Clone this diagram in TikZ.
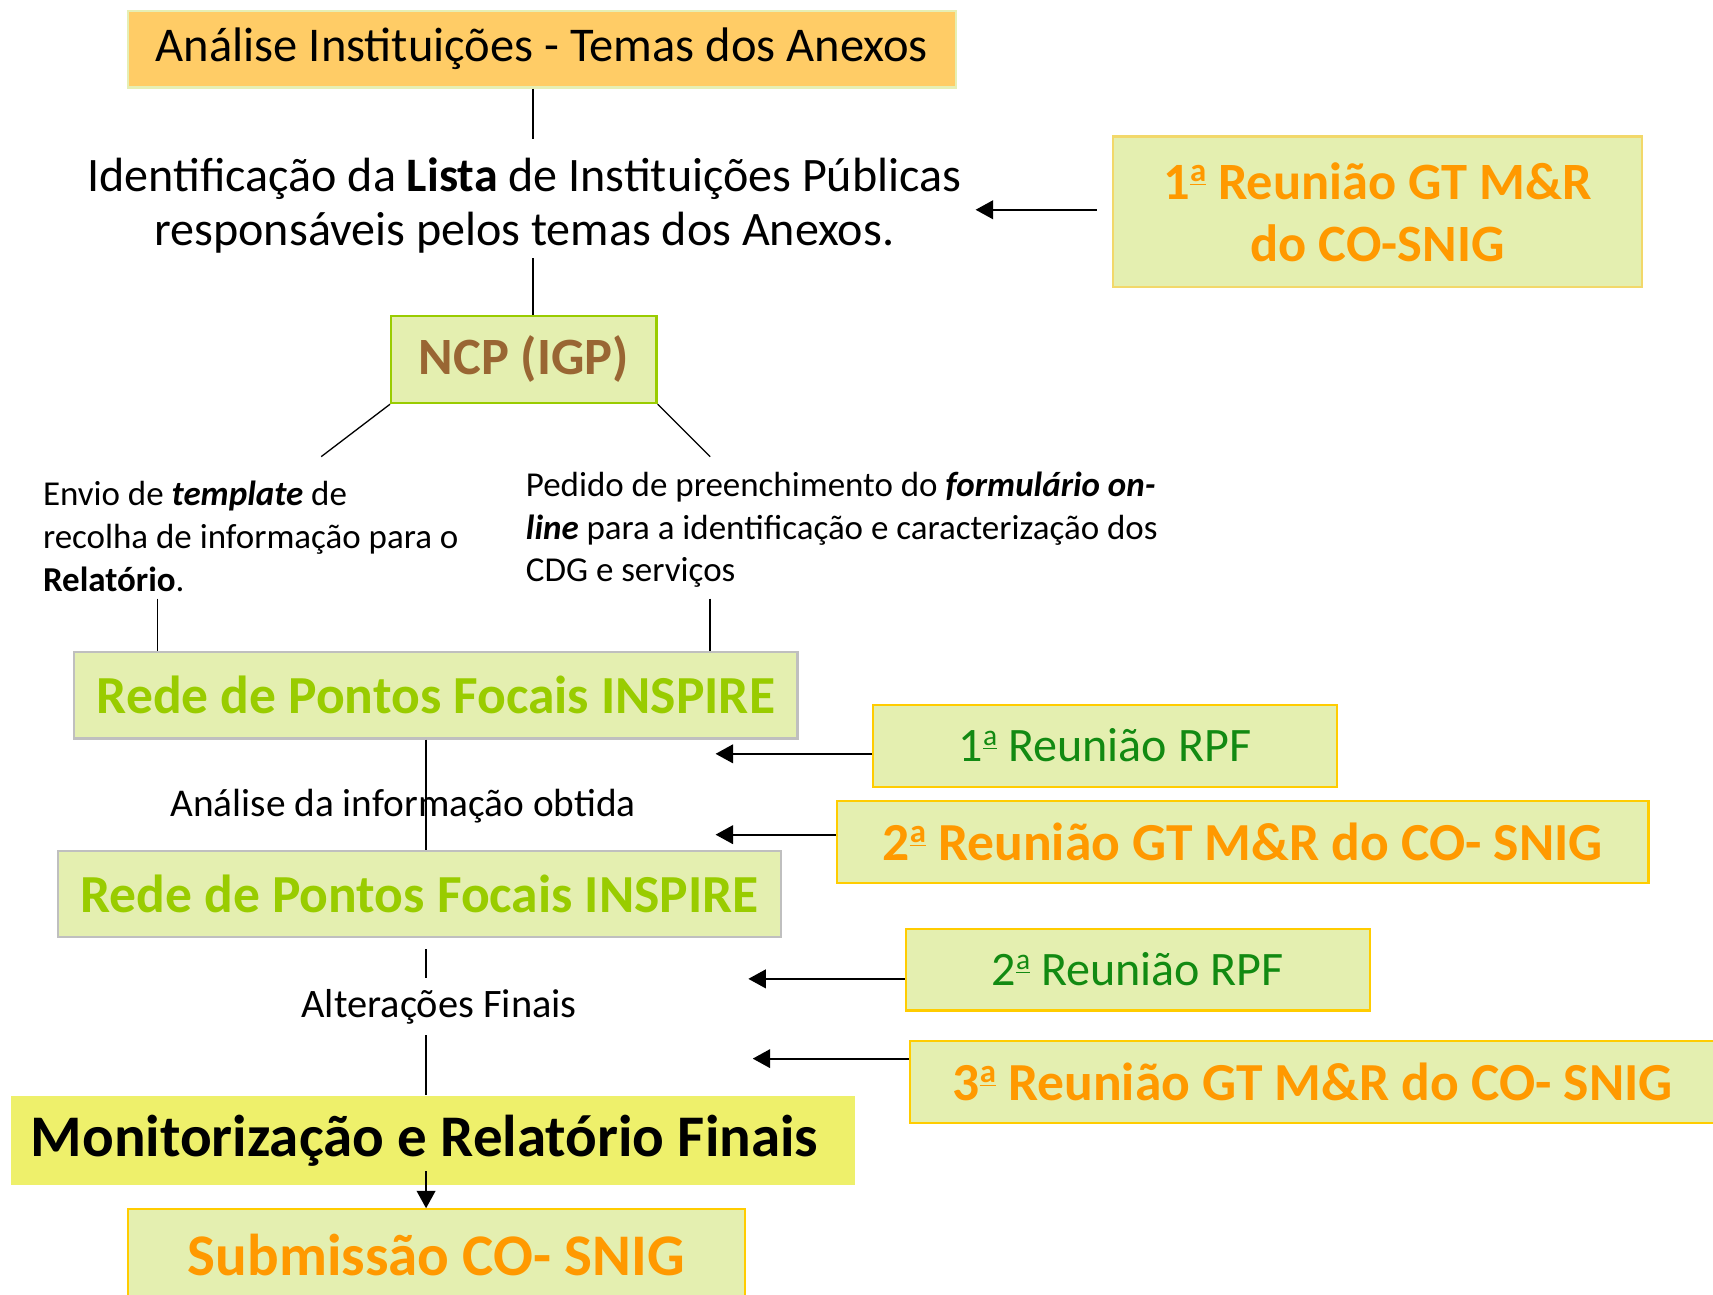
\documentclass[tikz,border=0pt]{standalone}
\usepackage{fontspec}
\setmainfont{Carlito}
\usetikzlibrary{arrows.meta,calc}
\definecolor{lgreen}{HTML}{E4EFB0}
\definecolor{goldb}{HTML}{FFCC00}
\definecolor{paleGold}{HTML}{F2D86A}
\definecolor{orangetxt}{HTML}{FF9900}
\definecolor{brighttxt}{HTML}{99CC00}
\definecolor{dgreentxt}{HTML}{128A12}
\definecolor{browntxt}{HTML}{996633}
\definecolor{topfill}{HTML}{FFCC66}
\definecolor{topborder}{HTML}{E6EFB4}
\definecolor{monfill}{HTML}{EEF06B}
\definecolor{grayb}{HTML}{BFBFBF}
\newcommand{\fs}[2]{\fontsize{#1}{#2}\selectfont}
\newcommand{\oa}[1]{\raisebox{0.34em}{\fontsize{#1}{#1}\selectfont\underline{a}}}
\begin{document}
\begin{tikzpicture}[x=0.5pt,y=-0.5pt,
  box/.style={line width=1pt, inner sep=0pt, align=center},
  lgbox/.style={box, fill=lgreen},
  conn/.style={line width=0.6pt},
  arr/.style={line width=1pt,-{Triangle[length=8pt,width=8.5pt]}},
  plain/.style={inner sep=0pt}]
\useasboundingbox (0,0) rectangle (1568,1185);

% boxes
\node[box, fill=topfill, draw=topborder, minimum width=379pt, minimum height=35pt, font=\fs{22.2}{26}]
  (top) at (496,45) {Análise Instituições - Temas dos Anexos};
\node[plain, align=center, minimum height=54pt, font=\fs{22}{24.5}] (ident) at (480,188)
  {Identificação da \textbf{Lista} de Instituições Públicas\\ responsáveis pelos temas dos Anexos.};
\node[lgbox, draw=brighttxt, minimum width=121.5pt, minimum height=40pt, font=\fs{24}{28}\bfseries, text=browntxt]
  (ncp) at (479.5,329) {NCP (IGP)};
\node[lgbox, draw=paleGold, minimum width=242pt, minimum height=69pt, font=\fs{24}{28.5}\bfseries, text=orangetxt]
  (gt1) at (1261,194) {1\oa{15} Reunião GT M\&R\\ do CO-SNIG};

\node[plain, anchor=west, align=left, font=\fs{16}{19.5}] (envio) at (39,491)
  {Envio de \textbf{\textit{template}} de\\ recolha de informação para o\\ \textbf{Relatório}.};
\node[plain, anchor=west, align=left, font=\fs{16}{19.5}] (pedido) at (481,485)
  {Pedido de preenchimento do \textbf{\textit{formulário on-}}\\ \textbf{\textit{line}} para a identificação e caracterização dos\\ CDG e serviços};

\node[lgbox, draw=grayb, minimum width=331pt, minimum height=39.5pt, font=\fs{24.5}{28}\bfseries, text=brighttxt]
  (rede1) at (399,636.5) {Rede de Pontos Focais INSPIRE};
\node[lgbox, draw=goldb, minimum width=212.5pt, minimum height=37.5pt, font=\fs{22}{26}, text=dgreentxt]
  (rpf1) at (1011.5,682.5) {1\oa{13.5} Reunião RPF};
\node[lgbox, draw=goldb, minimum width=371.5pt, minimum height=37.5pt, font=\fs{24.5}{28}\bfseries, text=orangetxt]
  (gt2) at (1137.5,770.5) {2\oa{15} Reunião GT M\&R do CO- SNIG};
\node[lgbox, draw=grayb, minimum width=331pt, minimum height=39.5pt, font=\fs{24.5}{28}\bfseries, text=brighttxt]
  (rede2) at (384,818.5) {Rede de Pontos Focais INSPIRE};
\node[lgbox, draw=goldb, minimum width=212.5pt, minimum height=37.5pt, font=\fs{22}{26}, text=dgreentxt]
  (rpf2) at (1041.5,887.5) {2\oa{13.5} Reunião RPF};
\node[lgbox, draw=goldb, minimum width=368.5pt, minimum height=37.5pt, font=\fs{24.5}{28}\bfseries, text=orangetxt]
  (gt3) at (1201.5,990.5) {3\oa{15} Reunião GT M\&R do CO- SNIG};
\node[plain, minimum height=25.5pt, font=\fs{18.5}{22}] (alt) at (402,921.5) {Alterações Finais};
\node[box, fill=monfill, minimum width=386.5pt, minimum height=41pt, font=\fs{27}{30}\bfseries]
  (mon) at (396.5,1044) {Monitorização e Relatório Finais\hspace*{8pt}};
\node[lgbox, draw=goldb, minimum width=282.5pt, minimum height=42pt, font=\fs{27}{30}\bfseries, text=orangetxt]
  (sub) at (399.5,1149) {Submissão CO- SNIG};

% free ends of connectors
\coordinate (c1) at (294,418);
\coordinate (c2) at (650,418);
\coordinate (c3) at (144,548);
\coordinate (c4) at (650,548);
\coordinate (a0) at (893,192);
\coordinate (a1) at (655,690);
\coordinate (a2) at (655,764);
\coordinate (a3) at (685,896);
\coordinate (a4) at (689,969);
\coordinate (m1) at (390,1072);
\coordinate (v1) at (390,677);

% connectors
\draw[conn] ($(top.south)+(-8,0)$) -- ($(ident.north)+(8,-6)$);
\draw[conn] ($(ident.south)+(8,-6)$) -- ($(ncp.north)+(8.5,0)$);
\draw[conn] (ncp.south west) -- (c1);
\draw[conn] (ncp.south east) -- (c2);
\draw[conn] (c3) -- (c3 |- rede1.north);
\draw[conn] (c4) -- (c4 |- rede1.north);
\draw[conn] (v1 |- rede1.south) -- (v1 |- rede2.north);
\draw[conn, shorten <=5pt] (v1 |- rede2.south) -- (v1 |- alt.north);
\draw[conn] (v1 |- alt.south) -- (v1 |- mon.north);

\node[plain, font=\fs{18}{22}] (ana) at (369,738) {Análise da informação obtida};

\draw[arr, shorten <=7pt] (gt1.west |- a0) -- (a0);
\draw[arr] (rpf1.west |- a1) -- (a1);
\draw[arr] (gt2.west |- a2) -- (a2);
\draw[arr] (rpf2.west |- a3) -- (a3);
\draw[arr] (gt3.west |- a4) -- (a4);
\draw[arr] (m1) -- (m1 |- sub.north);
\end{tikzpicture}
\end{document}
